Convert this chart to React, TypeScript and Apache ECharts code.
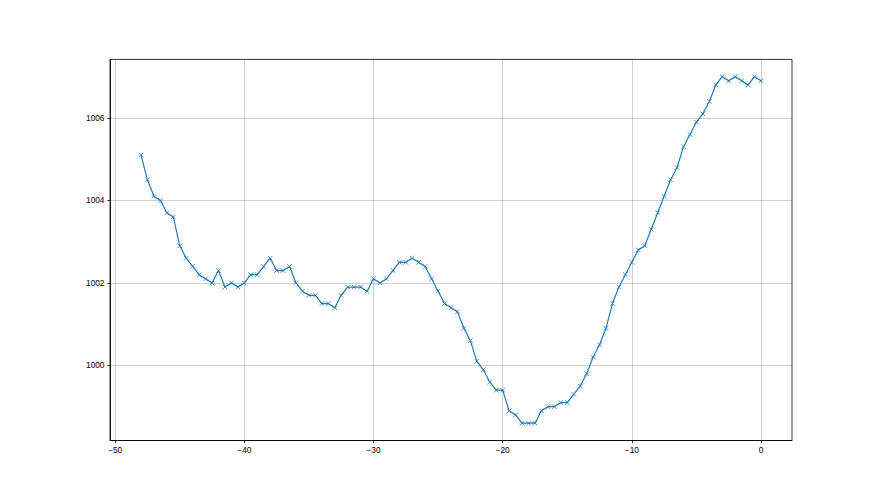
import React, { useEffect, useRef } from "react";
import * as echarts from "echarts";

const xValues: number[] = [
  -48, -47.5, -47, -46.5, -46, -45.5, -45, -44.5, -44, -43.5, -43, -42.5, -42, -41.5, -41, -40.5,
  -40, -39.5, -39, -38.5, -38, -37.5, -37, -36.5, -36, -35.5, -35, -34.5, -34, -33.5, -33, -32.5,
  -32, -31.5, -31, -30.5, -30, -29.5, -29, -28.5, -28, -27.5, -27, -26.5, -26, -25.5, -25, -24.5,
  -24, -23.5, -23, -22.5, -22, -21.5, -21, -20.5, -20, -19.5, -19, -18.5, -18, -17.5, -17, -16.5,
  -16, -15.5, -15, -14.5, -14, -13.5, -13, -12.5, -12, -11.5, -11, -10.5, -10, -9.5, -9, -8.5,
  -8, -7.5, -7, -6.5, -6, -5.5, -5, -4.5, -4, -3.5, -3, -2.5, -2, -1.5, -1, -0.5, 0,
];

const pressure: number[] = [
  1005.1, 1004.5, 1004.1, 1004.0, 1003.7, 1003.6, 1002.9, 1002.6, 1002.4, 1002.2, 1002.1, 1002.0,
  1002.3, 1001.9, 1002.0, 1001.9, 1002.0, 1002.2, 1002.2, 1002.4, 1002.6, 1002.3, 1002.3, 1002.4,
  1002.0, 1001.8, 1001.7, 1001.7, 1001.5, 1001.5, 1001.4, 1001.7, 1001.9, 1001.9, 1001.9, 1001.8,
  1002.1, 1002.0, 1002.1, 1002.3, 1002.5, 1002.5, 1002.6, 1002.5, 1002.4, 1002.1, 1001.8, 1001.5,
  1001.4, 1001.3, 1000.9, 1000.6, 1000.1, 999.9, 999.6, 999.4, 999.4, 998.9, 998.8, 998.6,
  998.6, 998.6, 998.9, 999.0, 999.0, 999.1, 999.1, 999.3, 999.5, 999.8, 1000.2, 1000.5,
  1000.9, 1001.5, 1001.9, 1002.2, 1002.5, 1002.8, 1002.9, 1003.3, 1003.7, 1004.1, 1004.5, 1004.8,
  1005.3, 1005.6, 1005.9, 1006.1, 1006.4, 1006.8, 1007.0, 1006.9, 1007.0, 1006.9, 1006.8, 1007.0,
  1006.9,
];

const xTicks: number[] = [-50, -40, -30, -20, -10, 0];
const yTicks: number[] = [1000, 1002, 1004, 1006];

const fmt = (v: number) => (v < 0 ? "\u2212" + Math.abs(v) : String(v));

export default function App() {
  const ref = useRef<HTMLDivElement>(null);
  useEffect(() => {
    if (!ref.current) return;
    const chart = echarts.init(ref.current, null, { renderer: "svg" });
    const gridColor = "#b0b0b0";
    const textStyle = { color: "#000", fontFamily: "Liberation Sans", fontSize: 8.3 };
    chart.setOption({
      animation: false,
      backgroundColor: "#fff",
      grid: { left: 110, right: 88, top: 59.4, bottom: 54.5, containLabel: false },
      xAxis: {
        type: "value",
        min: -50.4,
        max: 2.4,
        axisLine: { show: true, onZero: false, lineStyle: { color: "#000", width: 0.8 } },
        axisTick: { show: true, length: 2.7, customValues: xTicks, lineStyle: { color: "#000", width: 0.8 } },
        axisLabel: { show: true, customValues: xTicks, margin: 5, formatter: fmt, ...textStyle },
        splitLine: { show: true, lineStyle: { color: gridColor, width: 0.6 } },
      },
      yAxis: {
        type: "value",
        min: 998.18,
        max: 1007.42,
        axisLine: { show: true, onZero: false, lineStyle: { color: "#000", width: 0.8 } },
        axisTick: { show: true, length: 2.7, customValues: yTicks, lineStyle: { color: "#000", width: 0.8 } },
        axisLabel: { show: true, customValues: yTicks, margin: 5.5, formatter: (v: number) => String(v), ...textStyle },
        splitLine: { show: true, lineStyle: { color: gridColor, width: 0.6 } },
      },
      graphic: [
        {
          type: "rect",
          shape: { x: 110, y: 59.4, width: 682, height: 381.1 },
          style: { fill: "none", stroke: "#000", lineWidth: 0.8 },
          z: 100,
          silent: true,
        },
      ],
      series: [
        {
          type: "line",
          data: xValues.map((x, i) => [x, pressure[i]]),
          lineStyle: { color: "#1f77b4", width: 1.15 },
          symbol: "path://M0,0L10,10M10,0L0,10",
          symbolSize: 4.6,
          showAllSymbol: true,
          itemStyle: { color: "rgba(0,0,0,0)", borderColor: "#1f77b4", borderWidth: 0.8 },
          z: 3,
        },
      ],
    });
    return () => chart.dispose();
  }, []);
  return (
    <div
      ref={ref}
      style={{ position: "fixed", left: 0, top: 0, width: 880, height: 495 }}
    />
  );
}
